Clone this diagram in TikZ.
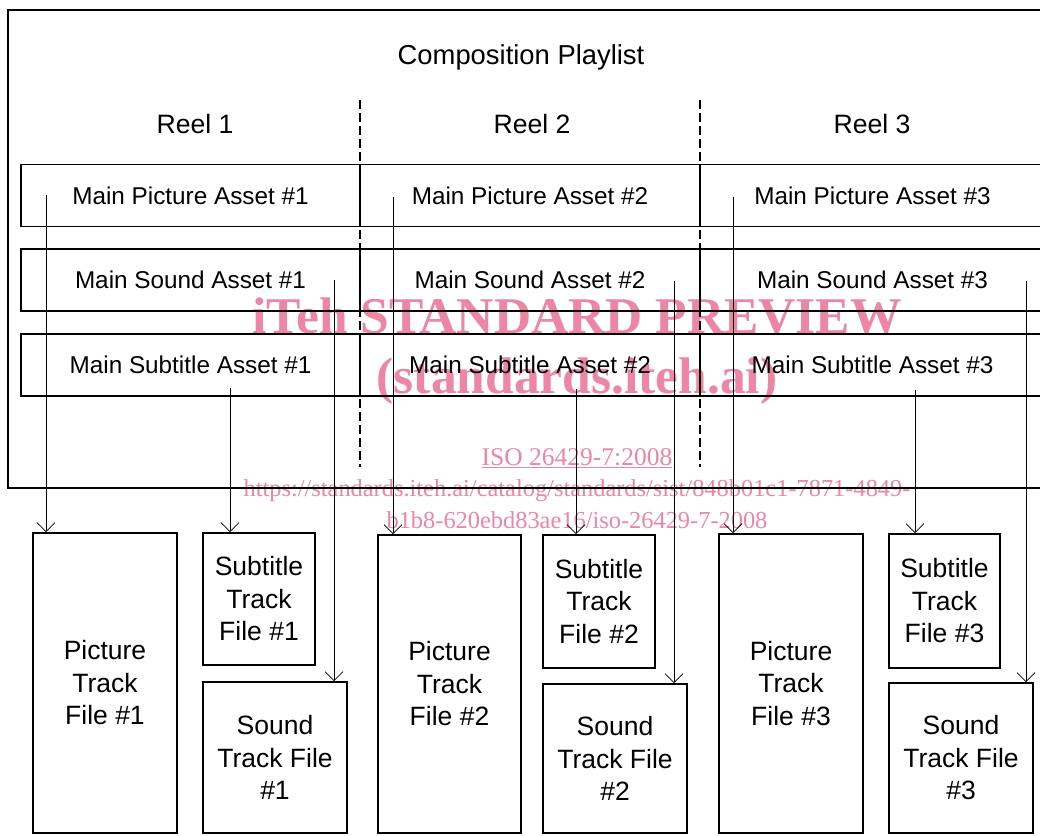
\documentclass[tikz,border=0pt]{standalone}
\usepackage{fontspec}
\setmainfont{Liberation Sans}
\newfontfamily\wmfont{Liberation Serif}
\usetikzlibrary{arrows.meta}
\definecolor{wmpink}{RGB}{236,134,164}

\begin{document}
\begin{tikzpicture}[x=1pt,y=-1pt,
    cell/.style={draw, line width=1.8pt, minimum height=62pt, inner sep=0pt,
      font=\fontsize{24.3}{28}\selectfont},
    filebox/.style={draw, line width=1.8pt, inner sep=0pt, align=center,
      font=\fontsize{26.5}{32.5}\selectfont},
    reel/.style={font=\fontsize{26.6}{30}\selectfont},
    arr/.style={-{Straight Barb[length=9pt,width=18pt]}, line width=0.7pt},
    divider/.style={line width=2.6pt, dash pattern=on 9pt off 4pt},
    wm/.style={text=wmpink, anchor=base, inner sep=0pt}]
  \useasboundingbox (0,0) rectangle (1040,835);
  % watermark
  \node[wm, font=\wmfont\bfseries\fontsize{51.5}{52}\selectfont] (wm1) at (577,333) {iTeh STANDARD PREVIEW};
  \node[wm, font=\wmfont\bfseries\fontsize{51.5}{52}\selectfont] (wm2) at (577,393) {(standards.iteh.ai)};
  \node[wm, font=\wmfont\fontsize{25.5}{26}\selectfont] (wm3) at (577,465) {\underline{ISO 26429-7:2008}};
  \node[wm, font=\wmfont\fontsize{24.4}{25}\selectfont] (wm4) at (577,496) {https://standards.iteh.ai/catalog/standards/sist/848b01c1-7871-4849-};
  \node[wm, font=\wmfont\fontsize{24.4}{25}\selectfont] (wm5) at (577,528) {b1b8-620ebd83ae16/iso-26429-7-2008};
  % composition playlist
  \node[draw, line width=1.8pt, minimum width=1040pt, minimum height=478pt] (cpl) at (528,249) {};
  \node[font=\fontsize{27.4}{30}\selectfont] (title) at (521,57) {Composition Playlist};
  \node[reel] (reel1) at (195,124) {Reel 1};
  \node[reel] (reel2) at (532,124) {Reel 2};
  \node[reel] (reel3) at (872,124) {Reel 3};
  \draw[divider] (360,100) -- (360,467);
  \draw[divider] (700,100) -- (700,467);
  % assets
  \node[cell, minimum width=339pt] (pic1) at (190.5,195.5) {Main Picture Asset \#1};
  \node[cell, minimum width=340pt] (pic2) at (530,195.5) {Main Picture Asset \#2};
  \node[cell, minimum width=345pt] (pic3) at (872.5,195.5) {Main Picture Asset \#3};
  \node[cell, minimum width=339pt] (snd1) at (190.5,280) {Main Sound Asset \#1};
  \node[cell, minimum width=340pt] (snd2) at (530,280) {Main Sound Asset \#2};
  \node[cell, minimum width=345pt] (snd3) at (872.5,280) {Main Sound Asset \#3};
  \node[cell, minimum width=339pt] (sub1) at (190.5,365) {Main Subtitle Asset \#1};
  \node[cell, minimum width=340pt] (sub2) at (530,365) {Main Subtitle Asset \#2};
  \node[cell, minimum width=345pt] (sub3) at (872.5,365) {Main Subtitle Asset \#3};
  % track files
  \node[filebox, minimum width=144pt, minimum height=300pt] (ptf1) at (105,683) {Picture\\Track\\File \#1};
  \node[filebox, minimum width=112pt, minimum height=132pt] (stf1) at (259,599) {Subtitle\\Track\\File \#1};
  \node[filebox, minimum width=144pt, minimum height=151pt] (sdf1) at (275,757.5) {Sound\\Track File\\\#1};
  \node[filebox, minimum width=143pt, minimum height=298pt] (ptf2) at (449.5,684) {Picture\\Track\\File \#2};
  \node[filebox, minimum width=112pt, minimum height=133pt] (stf2) at (599,601.5) {Subtitle\\Track\\File \#2};
  \node[filebox, minimum width=144pt, minimum height=149pt] (sdf2) at (615,758.5) {Sound\\Track File\\\#2};
  \node[filebox, minimum width=144pt, minimum height=299pt] (ptf3) at (791,683.5) {Picture\\Track\\File \#3};
  \node[filebox, minimum width=111pt, minimum height=134pt] (stf3) at (944.5,601) {Subtitle\\Track\\File \#3};
  \node[filebox, minimum width=144pt, minimum height=150pt] (sdf3) at (961,758) {Sound\\Track File\\\#3};
  % links
  \coordinate (p1) at (46,195);  \coordinate (s1) at (334,280);  \coordinate (t1) at (230,388);
  \coordinate (p2) at (393,197); \coordinate (s2) at (674,281);  \coordinate (t2) at (576,389);
  \coordinate (p3) at (733,197); \coordinate (s3) at (1026,281); \coordinate (t3) at (915,390);
  \foreach \i in {1,2,3} {
    \draw[arr] (p\i) -- (p\i |- ptf\i.north);
    \draw[arr] (s\i) -- (s\i |- sdf\i.north);
    \draw[arr] (t\i) -- (t\i |- stf\i.north);
  }
\end{tikzpicture}
\end{document}
